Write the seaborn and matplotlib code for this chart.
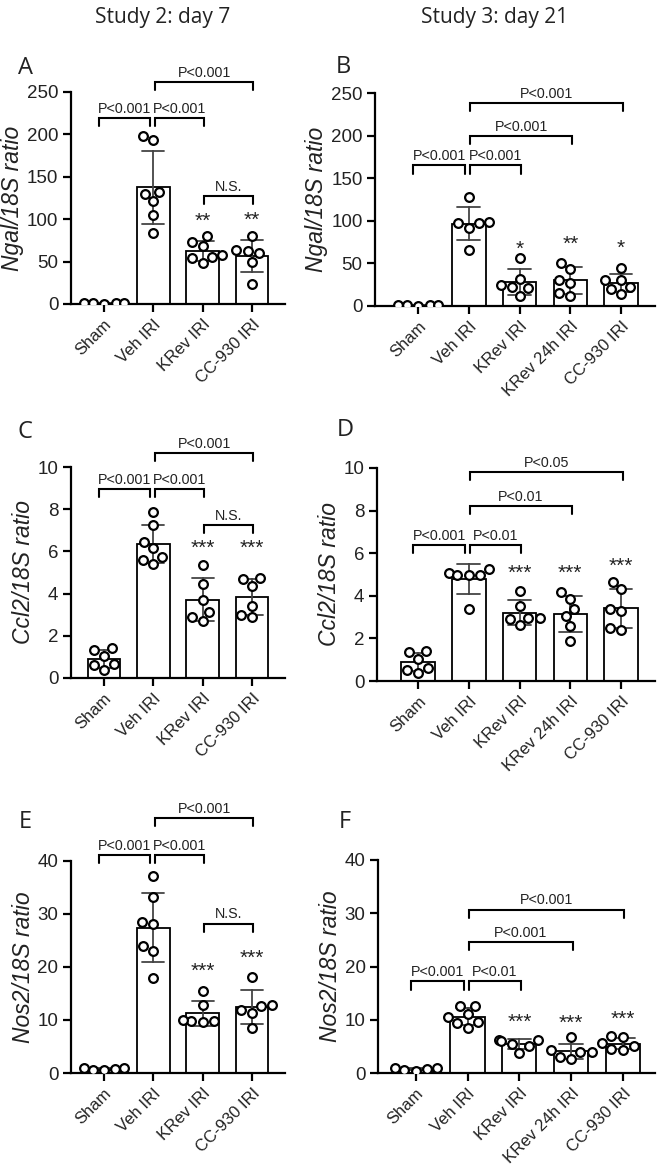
import numpy as np
import pandas as pd
import matplotlib
matplotlib.use('Agg')
import matplotlib.pyplot as plt
import seaborn as sns

# groups
groups_d7 = ['Sham', 'Veh IRI', 'KRev IRI', 'CC-930 IRI']
groups_d21 = ['Sham', 'Veh IRI', 'KRev IRI', 'KRev 24h IRI', 'CC-930 IRI']

# per-animal values (one list per group)
ngal_d7 = [[0.5, 0.8, 1.0, 1.2, 0.6],
           [193, 198, 132, 121, 130, 105, 84],
           [73, 80, 68, 56, 58, 54, 48],
           [80, 62, 64, 60, 50, 24]]
ngal_d21 = [[0.5, 0.8, 1.0, 0.7, 0.9],
            [128, 99, 97, 92, 98, 66],
            [56, 32, 25, 21, 22, 12],
            [44, 51, 27, 31, 15, 12],
            [45, 31, 31, 22, 20, 14]]
ccl2_d7 = [[1.33, 1.41, 1.05, 0.65, 0.38, 0.62],
           [7.85, 7.25, 6.46, 6.15, 5.39, 5.72, 5.59],
           [5.34, 4.44, 3.70, 3.14, 2.72, 2.88],
           [4.68, 4.72, 4.36, 3.43, 2.88, 2.99]]
ccl2_d21 = [[1.34, 1.42, 1.03, 0.63, 0.39, 0.51],
            [5.0, 5.25, 5.0, 5.06, 5.0, 3.4],
            [4.22, 3.52, 2.97, 2.64, 2.92, 2.97],
            [3.87, 4.19, 3.03, 3.36, 2.56, 1.90],
            [4.30, 4.66, 3.27, 3.36, 2.40, 2.50]]
nos2_d7 = [[0.6, 0.9, 0.8, 0.5, 1.0],
           [37.2, 33.3, 28.4, 28.2, 24.0, 23.1, 17.9],
           [15.5, 12.8, 9.8, 9.9, 10.0, 9.7],
           [18.2, 12.8, 12.6, 11.4, 11.8, 8.4]]
nos2_d21 = [[0.6, 0.9, 1.0, 0.7, 0.4],
            [12.5, 12.6, 10.5, 9.5, 9.3, 8.5, 11.0],
            [6.2, 6.2, 6.1, 5.4, 5.0, 3.8],
            [6.7, 3.0, 2.7, 4.0, 4.0, 4.3],
            [6.7, 6.9, 5.6, 4.4, 5.0, 4.6]]

# significance annotations: (group i, group j, bracket height, label)
brk_a = [(0, 1, 219, 'P<0.001'), (1, 2, 219, 'P<0.001'), (1, 3, 262, 'P<0.001'), (2, 3, 127, 'N.S.')]
brk_b = [(0, 1, 165, 'P<0.001'), (1, 2, 165, 'P<0.001'), (1, 3, 200, 'P<0.001'), (1, 4, 238, 'P<0.001')]
brk_c = [(0, 1, 8.94, 'P<0.001'), (1, 2, 8.94, 'P<0.001'), (1, 3, 10.68, 'P<0.001'), (2, 3, 7.24, 'N.S.')]
brk_d = [(0, 1, 6.39, 'P<0.001'), (1, 2, 6.39, 'P<0.01'), (1, 3, 8.23, 'P<0.01'), (1, 4, 9.8, 'P<0.05')]
brk_e = [(0, 1, 41.2, 'P<0.001'), (1, 2, 41.2, 'P<0.001'), (1, 3, 48.1, 'P<0.001'), (2, 3, 28.2, 'N.S.')]
brk_f = [(0, 1, 17.2, 'P<0.001'), (1, 2, 17.2, 'P<0.01'), (1, 3, 24.6, 'P<0.001'), (1, 4, 30.7, 'P<0.001')]

# stars vs Veh IRI: (group, height, text)
star_a = [(2, 97, '**'), (3, 99, '**')]
star_b = [(2, 66, '*'), (3, 72, '**'), (4, 68, '*')]
star_c = [(2, 6.14, '***'), (3, 6.14, '***')]
star_d = [(2, 5.06, '***'), (3, 5.06, '***'), (4, 5.38, '***')]
star_e = [(2, 19.1, '***'), (3, 21.6, '***')]
star_f = [(2, 9.5, '***'), (3, 9.3, '***'), (4, 10.1, '***')]

sns.set_theme(style='ticks')
plt.rcParams['font.family'] = ['Liberation Sans', 'DejaVu Sans']

W, H = 660, 1164
fig = plt.figure(figsize=(W / 100, H / 100), dpi=100)


def px_axes(left, right, top, bottom):
    return fig.add_axes([left / W, 1 - bottom / H, (right - left) / W, (bottom - top) / H])


def draw_panel(ax, groups, values, ymax, ystep, xlim, ylabel, brackets, stars):
    df = pd.DataFrame([(g, v) for g, vals in zip(groups, values) for v in vals],
                      columns=['group', 'value'])
    sns.barplot(data=df, x='group', y='value', order=groups, errorbar='sd',
                color='white', edgecolor='black', linewidth=1.3, width=0.66,
                capsize=0.45, err_kws={'color': '#444444', 'linewidth': 1.3}, ax=ax)
    sns.swarmplot(data=df, x='group', y='value', order=groups, color='white',
                  edgecolor='black', linewidth=1.6, size=6.3, zorder=3, ax=ax)
    ax.set_ylim(0, ymax)
    ax.set_yticks(np.arange(0, ymax + ystep / 2, ystep))
    ax.set_xlim(*xlim)
    sns.despine(ax=ax)
    for s in ['left', 'bottom']:
        ax.spines[s].set_linewidth(1.6)
        ax.spines[s].set_color('black')
    ax.tick_params(axis='both', width=1.6, length=6, color='black',
                   labelsize=13.5, labelcolor='#222222', pad=3)
    ax.set_xlabel('')
    ax.set_ylabel(ylabel, fontsize=16.5, style='italic', color='#222222', labelpad=2)
    ax.set_xticks(range(len(groups)))
    ax.set_xticklabels(groups, rotation=45, ha='right', va='top',
                       rotation_mode='anchor', fontsize=12)

    leg = 0.038 * ymax
    for i, j, y, label in brackets:
        x1 = i - 0.1 if i == 0 else i + 0.03
        x2 = j - 0.07 if j == 1 else j + 0.03
        ax.plot([x1, x1, x2, x2], [y - leg, y, y, y - leg], color='black', lw=1.5,
                clip_on=False, solid_joinstyle='miter')
        ax.annotate(label, xy=((x1 + x2) / 2, y), xytext=(0, 1.5),
                    textcoords='offset points', ha='center', va='bottom',
                    fontsize=10.3, color='#222222', annotation_clip=False)
    for i, y, txt in stars:
        ax.text(i, y, txt, ha='center', va='center', fontsize=15, color='#222222')


ax_a = px_axes(71, 285, 92, 304)
ax_b = px_axes(375, 655, 93, 306)
ax_c = px_axes(71, 285, 467, 678)
ax_d = px_axes(377, 655, 468, 681)
ax_e = px_axes(71, 285, 861, 1073)
ax_f = px_axes(378, 655, 860, 1073)

draw_panel(ax_a, groups_d7, ngal_d7, 250, 50, (-0.67, 3.67), 'Ngal/18S ratio', brk_a, star_a)
draw_panel(ax_b, groups_d21, ngal_d21, 250, 50, (-0.85, 4.67), 'Ngal/18S ratio', brk_b, star_b)
draw_panel(ax_c, groups_d7, ccl2_d7, 10, 2, (-0.67, 3.67), 'Ccl2/18S ratio', brk_c, star_c)
draw_panel(ax_d, groups_d21, ccl2_d21, 10, 2, (-0.81, 4.67), 'Ccl2/18S ratio', brk_d, star_d)
draw_panel(ax_e, groups_d7, nos2_d7, 40, 10, (-0.67, 3.67), 'Nos2/18S ratio', brk_e, star_e)
draw_panel(ax_f, groups_d21, nos2_d21, 40, 10, (-0.73, 4.62), 'Nos2/18S ratio', brk_f, star_f)

# column titles and panel letters
head = ['Open Sans', 'DejaVu Sans']
fig.text(163 / W, 1 - 17 / H, 'Study 2: day 7', ha='center', va='center', fontsize=15, family=head, color='#222222')
fig.text(495 / W, 1 - 17 / H, 'Study 3: day 21', ha='center', va='center', fontsize=15, family=head, color='#222222')
for letter, x, y in [('A', 25, 68), ('B', 343, 67), ('C', 25, 432), ('D', 345, 430),
                     ('E', 25, 822), ('F', 345, 822)]:
    fig.text(x / W, 1 - y / H, letter, ha='center', va='center', fontsize=17, family=head, color='#222222')

fig.savefig('out.png', dpi=100)
